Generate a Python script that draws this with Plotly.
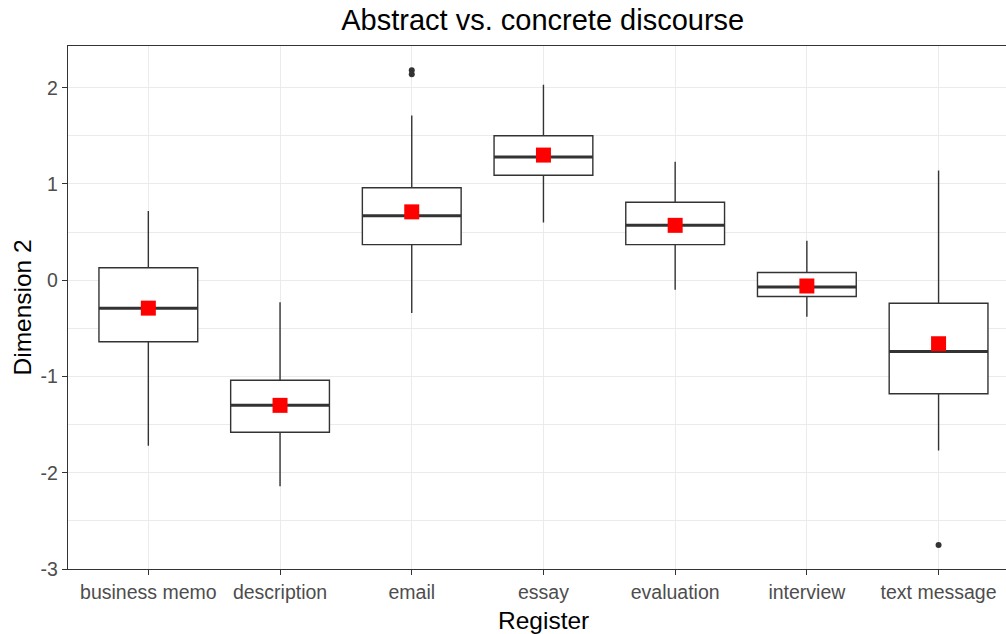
import plotly.graph_objects as go

categories = ["business memo", "description", "email", "essay", "evaluation", "interview", "text message"]
lower_whisker = [-1.72, -2.14, -0.34, 0.60, -0.10, -0.38, -1.77]
q1 = [-0.64, -1.58, 0.37, 1.09, 0.37, -0.17, -1.18]
median = [-0.29, -1.30, 0.67, 1.28, 0.57, -0.07, -0.74]
q3 = [0.13, -1.04, 0.96, 1.50, 0.81, 0.08, -0.24]
upper_whisker = [0.72, -0.23, 1.71, 2.03, 1.23, 0.41, 1.14]
means = [-0.29, -1.30, 0.71, 1.30, 0.57, -0.06, -0.66]
outlier_register = ["email", "email", "text message"]
outlier_value = [2.18, 2.14, -2.75]

FONT = "Liberation Sans, Arial, sans-serif"
DARK = "#333333"
GRID = "#EBEBEB"
BOX_W = 0.75

pos = list(range(len(categories)))

fig = go.Figure()
fig.add_trace(go.Box(
    x=pos, q1=q1, median=median, q3=q3,
    lowerfence=lower_whisker, upperfence=upper_whisker,
    width=BOX_W, whiskerwidth=0,
    fillcolor="white", line=dict(color=DARK, width=1.4),
    boxpoints=False, showlegend=False, hoverinfo="skip",
))

# thicker median lines (ggplot fatten)
mx, my = [], []
for i, m in zip(pos, median):
    mx += [i - BOX_W / 2, i + BOX_W / 2, None]
    my += [m, m, None]
fig.add_trace(go.Scatter(x=mx, y=my, mode="lines", line=dict(color=DARK, width=3),
                         showlegend=False, hoverinfo="skip"))

# outliers
ox = [categories.index(r) for r in outlier_register]
fig.add_trace(go.Scatter(x=ox, y=outlier_value, mode="markers",
                         marker=dict(color=DARK, size=6), showlegend=False))

# means
fig.add_trace(go.Scatter(x=pos, y=means, mode="markers",
                         marker=dict(color="#FF0000", size=15, symbol="square"),
                         showlegend=False))

fig.update_layout(
    width=1006, height=634,
    margin=dict(l=68, r=0, t=46, b=65),
    plot_bgcolor="white", paper_bgcolor="white",
    font=dict(family=FONT, color="#4D4D4D"),
    title=dict(text="Abstract vs. concrete discourse", xref="paper", x=0.5061, xanchor="center",
               yref="container", y=0.985, yanchor="top",
               font=dict(size=29, color="black", family=FONT)),
    xaxis=dict(
        range=[-0.61, 6.512], tickmode="array", tickvals=pos, ticktext=categories,
        showgrid=True, gridcolor=GRID, gridwidth=1.1, zeroline=False,
        showline=True, linecolor=DARK, linewidth=1.4, mirror=True,
        ticks="outside", ticklen=5, tickcolor=DARK, tickwidth=1.3,
        tickfont=dict(size=19.5, color="#4D4D4D"),
    ),
    yaxis=dict(
        range=[-3.0, 2.433], tickmode="array", tickvals=[-3, -2, -1, 0, 1, 2],
        ticktext=["-3", "-2", "-1", "0", "1", "2"],
        showgrid=True, gridcolor=GRID, gridwidth=1.1, zeroline=False,
        showline=True, linecolor=DARK, linewidth=1.4, mirror=False,
        ticks="outside", ticklen=5, tickcolor=DARK, tickwidth=1.3,
        tickfont=dict(size=19.5, color="#4D4D4D"),
        minor=dict(tickvals=[-2.5, -1.5, -0.5, 0.5, 1.5], showgrid=True,
                   gridcolor=GRID, gridwidth=0.8, ticks=""),
    ),
    annotations=[
        dict(text="Register", xref="x", x=3.0, yref="paper", y=0, yanchor="top",
             yshift=-36, showarrow=False, font=dict(size=24.5, color="black", family=FONT)),
        dict(text="Dimension 2", xref="paper", x=0, xanchor="center", xshift=-46,
             yref="paper", y=0.5, textangle=-90, showarrow=False,
             font=dict(size=24.5, color="black", family=FONT)),
    ],
)

fig.write_html("out.html")
